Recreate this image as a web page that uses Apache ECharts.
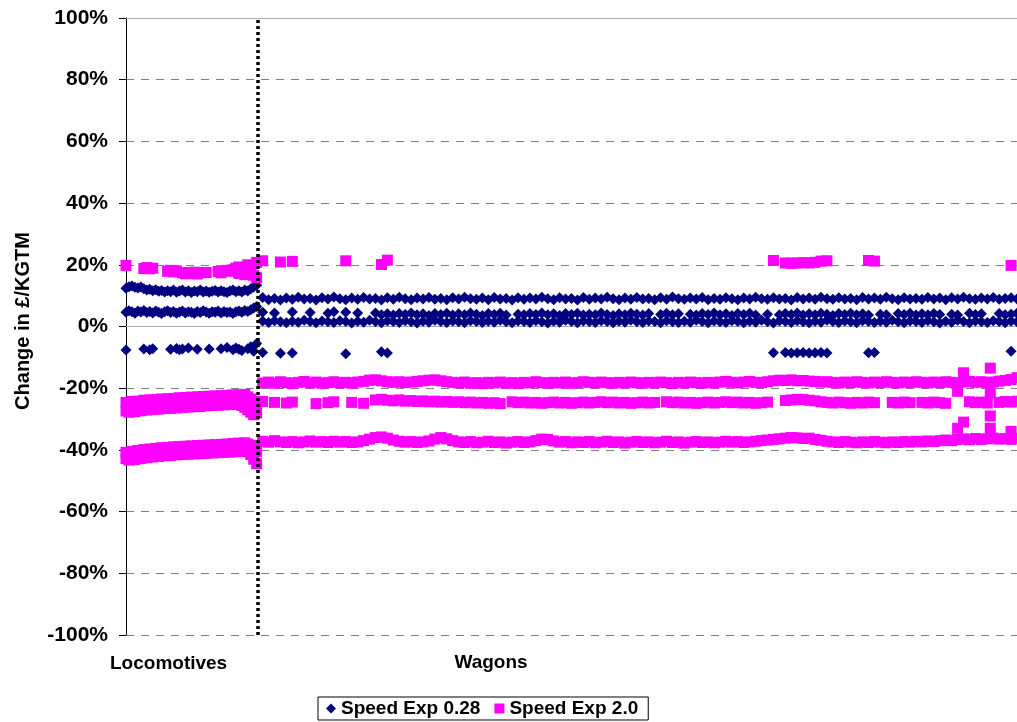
<!DOCTYPE html>
<html>
<head>
<meta charset="utf-8">
<script src="https://cdn.jsdelivr.net/npm/echarts@6/dist/echarts.min.js"></script>
<style>html,body{margin:0;padding:0;background:#fff}#chart{width:1017px;height:722px}</style>
</head>
<body>
<div id="chart"></div>
<script>
// ---------- data ----------
const seriesNames = ['Speed Exp 0.28', 'Speed Exp 2.0'];
const groupLabels = ['Locomotives', 'Wagons'];
const yTicks = [-100, -80, -60, -40, -20, 0, 20, 40, 60, 80, 100];
const xMaxIndex = 300;          // observation index range
const dividerIndex = 44.5;      // between last locomotive and first wagon
const locoStart = 0, locoStep = 1;      // locomotive observations 0..44
const wagonStart = 46, wagonStep = 2;   // wagon observations 46..300

// Locomotives, Speed Exp 0.28 (%)
const locoBlueHigh = [12.4,12.9,13.1,12.7,12.5,12.8,12.2,11.8,12.1,11.6,
  11.9,11.4,11.7,11.2,11.6,11.3,11.8,11.1,11.5,11.8,
  11.2,11.6,11.0,11.5,11.3,11.8,11.2,11.5,11.1,11.4,
  11.7,11.2,11.6,11.3,11.0,11.5,11.8,11.3,11.6,11.2,
  11.8,11.5,12.2,12.8,13.4];
const locoBlueLow = [4.6,5.1,4.8,4.3,5.0,4.7,5.2,4.5,4.9,4.4,
  5.0,4.6,4.2,4.8,5.1,4.5,4.9,4.3,4.7,5.0,
  4.4,4.8,4.6,4.2,4.9,4.5,5.1,4.7,4.3,4.8,
  4.6,5.0,4.4,4.9,4.5,4.7,4.2,4.8,5.0,4.6,
  5.2,4.9,5.4,6.0,6.5];
const locoBlueSparse = [[0,-7.6],[6,-7.3],[8,-7.5],[9,-7.2],[15,-7.4],[17,-7.1],[18,-7.5],[19,-7.3],
  [21,-7.0],[24,-7.4],[28,-7.3],[32,-7.2],[34,-6.8],[36,-7.5],[37,-7.0],[38,-7.4],[39,-7.8],
  [41,-7.2],[42,-6.6],[43,-8.0],[44,-5.5]];

// Locomotives, Speed Exp 2.0 (%)
const locoPinkTop = [[0,19.8],[6,18.8],[7,19.1],[8,18.7],[9,18.9],[14,17.9],[15,18.2],[16,17.7],[17,18.0],
  [19,17.4],[20,17.1],[21,17.5],[22,17.2],[23,17.6],[24,17.0],[25,17.4],[27,17.5],[31,17.8],[32,17.4],
  [34,18.2],[35,17.9],[36,18.4],[37,18.9],[38,19.3],[39,18.6],[41,20.0],[42,19.6],[44,20.8],
  [38,17.2],[40,16.8],[42,17.0],[43,16.6],[44,15.8]];
const locoPinkMidA = [-24.6,-24.9,-24.3,-24.7,-24.2,-24.5,-23.9,-24.3,-23.8,-24.1,
  -23.7,-24.0,-23.5,-23.9,-23.4,-23.8,-23.3,-23.6,-23.1,-23.5,
  -23.0,-23.4,-22.9,-23.3,-22.8,-23.2,-22.7,-23.1,-22.6,-23.0,
  -22.5,-22.9,-22.4,-22.8,-22.3,-22.7,-22.2,-22.6,-22.1,-22.5,
  -22.0,-22.8,-23.5,-24.2,-25.0];
const locoPinkMidB = [-27.4,-27.8,-27.2,-27.6,-27.0,-27.3,-26.8,-27.1,-26.6,-26.9,
  -26.5,-26.8,-26.3,-26.6,-26.2,-26.5,-26.0,-26.4,-25.9,-26.2,
  -25.8,-26.1,-25.6,-26.0,-25.5,-25.9,-25.4,-25.7,-25.3,-25.6,
  -25.2,-25.5,-25.1,-25.4,-25.0,-25.3,-24.9,-25.2,-25.0,-25.6,
  -26.2,-27.0,-27.8,-28.6,-28.0];
const locoPinkLowA = [-40.8,-41.2,-40.5,-40.9,-40.2,-40.6,-39.9,-40.3,-39.7,-40.1,
  -39.5,-39.9,-39.3,-39.7,-39.2,-39.6,-39.0,-39.4,-38.9,-39.3,
  -38.8,-39.2,-38.7,-39.1,-38.6,-39.0,-38.5,-38.9,-38.4,-38.8,
  -38.3,-38.7,-38.2,-38.6,-38.1,-38.5,-37.9,-38.3,-37.8,-38.2,
  -37.7,-38.1,-38.6,-39.5,-40.5];
const locoPinkLowB = [-42.8,-43.3,-42.6,-43.1,-42.4,-42.8,-42.1,-42.5,-41.9,-42.3,
  -41.7,-42.1,-41.5,-41.9,-41.4,-41.8,-41.2,-41.6,-41.1,-41.5,
  -41.0,-41.4,-40.9,-41.3,-40.8,-41.2,-40.7,-41.1,-40.6,-41.0,
  -40.5,-40.9,-40.4,-40.8,-40.3,-40.7,-40.2,-40.6,-40.1,-40.5,
  -40.0,-40.6,-41.5,-43.0,-44.5];

// Wagons, Speed Exp 0.28 (%)
const wagonBlueHigh = [
  9.4,8.7,9.1,8.6,9.2,8.8,9.5,8.9,9.1,8.6,9.3,8.9,9.6,9.0,8.7,9.2,
  8.8,9.4,8.9,9.1,8.6,9.3,8.8,9.5,9.0,8.7,9.2,8.9,9.4,8.8,9.1,8.7,
  9.3,8.9,9.5,9.0,8.8,9.2,8.7,9.4,8.9,9.1,8.6,9.3,8.8,9.2,8.9,9.5,
  9.0,8.7,9.3,8.9,9.1,8.6,9.4,8.8,9.2,8.9,9.5,9.0,8.7,9.2,8.8,9.4,
  8.9,9.1,8.7,9.3,8.8,9.6,9.0,8.8,9.2,8.9,9.4,8.7,9.1,8.8,9.3,9.0,
  8.7,9.2,8.9,9.5,9.0,8.8,9.3,8.9,9.1,8.6,9.4,8.9,9.2,8.8,9.5,9.0,
  8.8,9.3,8.9,9.1,8.7,9.4,8.9,9.2,8.8,9.5,9.0,8.7,9.3,8.9,9.1,8.8,
  9.4,8.9,9.2,8.7,9.3,8.9,9.5,9.0,8.8,9.2,8.9,9.4,8.8,9.1,9.3,8.9];
const wagonBlueLowA = [
  4.6,null,4.4,null,null,4.7,null,null,4.5,null,null,4.3,4.8,null,4.6,null,
  4.4,null,null,4.4,3.8,4.1,3.7,4.2,3.9,4.4,3.8,4.1,3.6,4.2,3.9,4.3,
  3.7,4.1,3.8,4.4,4.0,3.6,4.2,3.9,4.3,3.7,null,4.0,3.8,4.2,3.9,4.4,
  3.8,4.1,3.6,4.2,3.9,4.3,3.7,4.0,3.8,4.4,3.9,3.6,4.1,3.8,4.3,4.0,
  3.7,4.2,null,3.9,4.3,3.8,4.1,null,4.0,3.7,4.2,3.9,4.4,3.8,4.1,3.6,
  4.2,3.9,4.3,3.7,null,4.0,null,3.8,4.2,3.9,4.4,3.7,4.1,3.8,4.3,4.0,
  3.6,4.2,3.9,4.3,3.8,4.1,3.7,null,4.0,3.8,null,4.2,3.9,4.3,3.7,4.1,
  3.8,4.2,3.9,null,4.0,3.7,null,4.3,3.9,4.1,null,null,4.2,3.8,4.0,4.3];
const wagonBlueLowB = [
  1.8,1.3,1.9,1.5,1.2,1.7,1.4,2.0,1.6,1.2,1.8,1.5,1.3,1.9,1.6,1.1,
  1.7,1.4,2.0,1.5,1.2,1.8,1.6,1.3,1.9,1.5,1.1,1.7,1.4,2.0,1.6,1.3,
  1.8,1.5,1.2,1.9,1.6,1.3,1.7,1.4,2.0,1.5,1.2,1.8,1.6,1.3,1.9,1.5,
  1.1,1.7,1.4,2.0,1.6,1.2,1.8,1.5,1.3,1.9,1.6,1.2,1.7,1.4,2.0,1.5,
  1.3,1.8,1.6,1.2,1.9,1.5,1.3,1.7,1.4,2.0,1.6,1.2,1.8,1.5,1.3,1.9,
  1.6,1.2,1.7,1.4,2.0,1.5,1.1,1.8,1.6,1.3,1.9,1.5,1.2,1.7,1.4,2.0,
  1.6,1.3,1.8,1.5,1.2,1.9,1.6,1.3,1.7,1.4,2.0,1.5,1.2,1.8,1.6,1.3,
  1.9,1.5,1.1,1.7,1.4,2.0,1.6,1.2,1.8,1.5,1.3,1.9,1.6,1.2,1.7,1.5];
const wagonBlueSparse = [[46,-8.4],[52,-8.7],[56,-8.6],[74,-8.8],[86,-8.2],[88,-8.6],[218,-8.5],
  [222,-8.4],[224,-8.6],[226,-8.5],[228,-8.4],[230,-8.6],[232,-8.5],[234,-8.4],[236,-8.6],
  [250,-8.5],[252,-8.4],[298,-8.0]];

// Wagons, Speed Exp 2.0 (%)
const wagonPinkTop = [[46,21.3],[52,20.9],[56,21.1],[74,21.3],[86,20.1],[88,21.5],[218,21.4],
  [222,20.6],[224,20.5],[226,20.6],[228,20.7],[230,20.6],[232,20.8],[234,21.2],[236,21.3],
  [250,21.4],[252,21.2],[298,19.8]];
const wagonPinkMid1 = [
  -18.3,-18.0,-18.4,-17.9,-18.2,-18.5,-18.1,-17.8,-18.3,-18.0,-18.4,-18.2,-17.9,-18.3,-18.1,-18.4,
  -18.0,-17.8,-17.4,-17.3,-17.6,-17.9,-18.1,-17.9,-18.2,-18.0,-17.8,-17.6,-17.4,-17.3,-17.6,-17.9,
  -18.1,-18.3,-18.0,-18.4,-18.2,-18.5,-18.1,-18.3,-18.0,-18.4,-18.2,-18.5,-18.1,-18.3,-17.9,-18.2,
  -18.4,-18.1,-18.3,-18.0,-18.4,-18.2,-17.9,-18.1,-18.3,-18.0,-18.2,-18.4,-18.1,-18.3,-18.0,-18.2,
  -18.4,-18.1,-18.3,-18.0,-18.2,-18.5,-18.1,-18.3,-18.0,-18.2,-18.4,-18.1,-18.3,-18.0,-17.8,-18.1,
  -18.3,-18.0,-17.8,-18.1,-18.2,-17.9,-17.6,-17.4,-17.5,-17.3,-17.6,-17.5,-17.7,-17.8,-18.0,-17.9,
  -18.1,-18.3,-18.0,-18.2,-17.9,-18.1,-18.3,-18.0,-18.2,-17.9,-18.1,-18.3,-18.0,-18.2,-17.9,-18.1,
  -18.3,-18.0,-18.2,-17.9,-18.1,-18.3,-18.0,-17.8,-18.1,-17.9,-18.2,-18.0,-17.7,-17.5,-17.2,-16.6];
const wagonPinkMid2 = [
  -24.3,null,-24.6,null,-24.8,-24.5,null,null,null,-25.0,null,-24.7,-24.4,null,null,-24.6,
  null,-24.9,null,-23.8,-23.6,-23.9,-24.1,-23.8,-24.2,-24.0,-24.3,-24.1,-24.4,-24.2,-24.5,-24.3,
  -24.6,-24.4,-24.7,-24.5,-24.8,-24.6,-24.9,-24.7,-25.0,null,-24.4,-24.7,-24.5,-24.8,-24.6,-24.9,
  -24.7,-24.5,-24.8,-24.6,-24.9,-24.7,-24.5,-24.8,-24.6,-24.4,-24.7,-24.5,-24.8,-24.6,-24.9,-24.7,
  -24.5,-24.8,-24.6,null,-24.4,-24.7,-24.5,-24.8,-24.6,-24.9,-24.7,-24.5,-24.8,-24.6,-24.4,-24.7,
  -24.5,-24.8,-24.6,-24.9,-24.7,-24.5,null,null,-24.0,-23.8,-23.6,-23.7,-23.9,-24.1,-24.4,-24.6,
  -24.8,-24.5,-24.7,-24.9,-24.6,-24.8,-24.5,-24.7,null,null,-24.6,-24.8,-24.5,-24.7,null,-24.6,
  -24.8,-24.5,-24.7,-24.9,null,null,null,-24.4,-24.7,-24.5,-24.8,null,-24.6,-24.3,-24.5,-24.2];
const wagonPinkLow = [
  -37.2,-37.5,-37.0,-37.4,-37.6,-37.3,-37.7,-37.4,-37.1,-37.5,-37.3,-37.6,-37.2,-37.5,-37.3,-37.6,
  -37.4,-37.0,-36.5,-36.0,-35.8,-36.2,-36.8,-37.2,-37.5,-37.3,-37.6,-37.4,-37.1,-36.5,-36.0,-36.4,
  -37.0,-37.4,-37.6,-37.3,-37.7,-37.5,-37.2,-37.6,-37.4,-37.8,-37.5,-37.3,-37.6,-37.4,-37.0,-36.5,
  -36.6,-37.1,-37.5,-37.3,-37.7,-37.4,-37.6,-37.3,-37.7,-37.5,-37.2,-37.6,-37.4,-37.8,-37.5,-37.3,
  -37.6,-37.4,-37.7,-37.5,-37.2,-37.6,-37.4,-37.8,-37.5,-37.3,-37.6,-37.4,-37.7,-37.5,-37.2,-37.5,
  -37.3,-37.6,-37.4,-37.2,-37.0,-36.8,-36.6,-36.4,-36.2,-36.0,-36.1,-36.3,-36.2,-36.6,-36.9,-37.2,
  -37.4,-37.6,-37.3,-37.5,-37.7,-37.4,-37.6,-37.3,-37.5,-37.7,-37.4,-37.6,-37.3,-37.5,-37.2,-37.4,
  -37.1,-37.3,-37.0,-36.8,-37.0,-36.6,-36.4,-36.7,-36.3,-36.6,-36.4,-36.2,-36.5,-36.3,-36.6,-36.2];
const wagonPinkExtra = [[280,-21.0],[282,-15.0],[291,-13.5],[291,-21.5],[280,-33.0],[282,-31.0],
  [291,-29.0],[291,-33.0],[298,-34.0]];

// ---------- build ----------
function dense(values, start, step) {
  const out = [];
  values.forEach((v, i) => { if (v !== null) out.push([start + i * step, v]); });
  return out;
}
const blueData = [].concat(
  dense(locoBlueHigh, locoStart, locoStep), dense(locoBlueLow, locoStart, locoStep), locoBlueSparse,
  dense(wagonBlueHigh, wagonStart, wagonStep), dense(wagonBlueLowA, wagonStart, wagonStep),
  dense(wagonBlueLowB, wagonStart, wagonStep), wagonBlueSparse);
const pinkData = [].concat(
  locoPinkTop, dense(locoPinkMidA, locoStart, locoStep), dense(locoPinkMidB, locoStart, locoStep),
  dense(locoPinkLowA, locoStart, locoStep), dense(locoPinkLowB, locoStart, locoStep),
  wagonPinkTop, dense(wagonPinkMid1, wagonStart, wagonStep), dense(wagonPinkMid2, wagonStart, wagonStep),
  dense(wagonPinkLow, wagonStart, wagonStep), wagonPinkExtra);

const FONT = '"Liberation Sans", Arial, sans-serif';
const hiddenAxis = { axisTick: { show: false }, axisLabel: { show: false }, splitLine: { show: false } };
const chart = echarts.init(document.getElementById('chart'), null, { renderer: 'canvas' });
chart.setOption({
  animation: false,
  backgroundColor: '#ffffff',
  grid: { left: 126, right: 0, top: 18, bottom: 87, show: false },
  xAxis: [
    Object.assign({ type: 'value', min: 0, max: xMaxIndex, position: 'bottom',
      axisLine: { show: true, lineStyle: { color: '#a8a8a8', width: 1 } } }, hiddenAxis),
    Object.assign({ type: 'value', min: 0, max: xMaxIndex, position: 'top',
      axisLine: { show: true, lineStyle: { color: '#a8a8a8', width: 1 } } }, hiddenAxis)
  ],
  yAxis: {
    type: 'value', min: yTicks[0], max: yTicks[yTicks.length - 1], interval: 20,
    axisLine: { show: true, lineStyle: { color: '#000', width: 1 } },
    axisTick: { show: true, length: 7, lineStyle: { color: '#000' } },
    axisLabel: { formatter: '{value}%', color: '#000', fontSize: 21, fontWeight: 'bold', fontFamily: FONT, margin: 18 },
    splitLine: { show: true, lineStyle: { color: '#808080', width: 1, type: [8, 7] } }
  },
  legend: {
    data: seriesNames, left: 318, top: 697, orient: 'horizontal',
    itemWidth: 10, itemHeight: 10, itemGap: 14,
    padding: [2, 10, 2, 8], borderColor: '#000', borderWidth: 1, backgroundColor: '#fff',
    textStyle: { color: '#000', fontSize: 19, fontWeight: 'bold', fontFamily: FONT }
  },
  graphic: [
    { type: 'text', left: 110, top: 654, style: { text: groupLabels[0], fill: '#000', font: 'bold 19px ' + FONT } },
    { type: 'text', x: 491, y: 663, style: { text: groupLabels[1], fill: '#000', font: 'bold 19px ' + FONT, align: 'center', verticalAlign: 'middle' } },
    { type: 'text', x: 23, y: 321, rotation: Math.PI / 2, style: { text: 'Change in £/KGTM', fill: '#000', font: 'bold 20px ' + FONT, align: 'center', verticalAlign: 'middle' } }
  ],
  series: [
    { name: seriesNames[0], type: 'scatter', symbol: 'diamond', symbolSize: 11, itemStyle: { color: '#000080', opacity: 1 }, data: blueData, z: 2 },
    { name: seriesNames[1], type: 'scatter', symbol: 'rect', symbolSize: 11, itemStyle: { color: '#ff00ff', opacity: 1 }, data: pinkData, z: 3 },
    { name: 'divider', type: 'scatter', data: [], z: 5,
      markLine: { silent: true, symbol: 'none', label: { show: false },
        lineStyle: { color: '#000', width: 3.5, type: [3, 3] }, data: [{ xAxis: dividerIndex }] } }
  ]
});
</script>
</body>
</html>
